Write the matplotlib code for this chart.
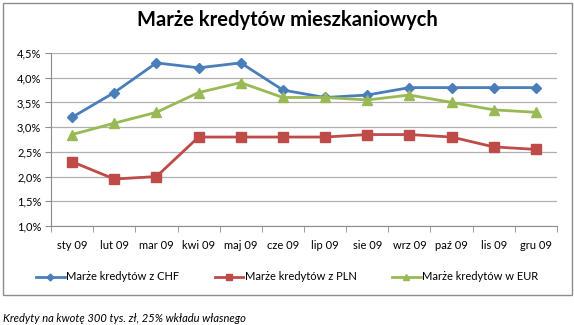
import numpy as np
import matplotlib.pyplot as plt
from matplotlib.patches import Rectangle
from matplotlib.ticker import FixedLocator

plt.rcParams['font.family'] = ['Lato', 'DejaVu Sans']

miesiace = ["sty 09", "lut 09", "mar 09", "kwi 09", "maj 09", "cze 09",
            "lip 09", "sie 09", "wrz 09", "paź 09", "lis 09", "gru 09"]
chf = [3.2, 3.7, 4.3, 4.2, 4.3, 3.75, 3.6, 3.65, 3.8, 3.8, 3.8, 3.8]
pln = [2.3, 1.95, 2.0, 2.8, 2.8, 2.8, 2.8, 2.85, 2.85, 2.8, 2.6, 2.55]
eur = [2.85, 3.08, 3.3, 3.7, 3.9, 3.6, 3.6, 3.55, 3.65, 3.5, 3.35, 3.3]
y_ticks = [1.0, 1.5, 2.0, 2.5, 3.0, 3.5, 4.0, 4.5]

fig = plt.figure(figsize=(5.74, 3.25), dpi=100)
fig.patch.set_facecolor("white")

# ramka wykresu
fig.patches.append(Rectangle((3 / 574, 1 - 295 / 325), 569 / 574, 292 / 325,
                             transform=fig.transFigure, fill=False,
                             edgecolor="#8c8c8c", linewidth=1))

ax = fig.add_axes([51 / 574, 1 - 226 / 325, 506 / 574, 173 / 325])
x = np.arange(len(miesiace))

ax.plot(x, chf, color="#4A7EBB", marker="D", markersize=5, linewidth=2,
        label="Marże kredytów z CHF")
ax.plot(x, pln, color="#BE4B48", marker="s", markersize=7, linewidth=2,
        label="Marże kredytów z PLN")
ax.plot(x, eur, color="#98B954", marker="^", markersize=7, linewidth=2,
        label="Marże kredytów w EUR")

ax.set_xlim(-0.5, len(miesiace) - 0.5)
ax.set_ylim(1.0, 4.5)
ax.set_yticks(y_ticks)
ax.set_yticklabels([f"{v:.1f}%".replace(".", ",") for v in y_ticks], fontsize=8)
ax.set_xticks(x)
ax.set_xticklabels(miesiace, fontsize=8)
ax.tick_params(axis="x", length=0, pad=10)
ax.xaxis.set_minor_locator(FixedLocator(np.arange(-0.5, len(miesiace), 1)))
ax.tick_params(axis="x", which="minor", length=4, color="#8c8c8c")
ax.tick_params(axis="y", length=4, color="#8c8c8c", pad=3)
ax.yaxis.grid(True, color="#b0b0b0", linewidth=0.9)
ax.set_axisbelow(True)
for s in ["top", "right"]:
    ax.spines[s].set_visible(False)
ax.spines["left"].set_color("#8c8c8c")
ax.spines["bottom"].set_color("#8c8c8c")

fig.text(0.5, 1 - 20 / 325, "Marże kredytów mieszkaniowych", ha="center",
         va="center", fontsize=14.5, fontweight="bold")

fig.legend(loc="center", bbox_to_anchor=(0.5, 1 - 277 / 325), ncol=3,
           frameon=False, fontsize=8, handlelength=2.6, columnspacing=3.2,
           handletextpad=0.1, markerscale=0.7)

fig.text(3 / 574, 1 - 318 / 325, "Kredyty na kwotę 300 tys. zł, 25% wkładu własnego",
         ha="left", va="center", fontsize=8, style="italic")

fig.savefig("out.png", dpi=100)
